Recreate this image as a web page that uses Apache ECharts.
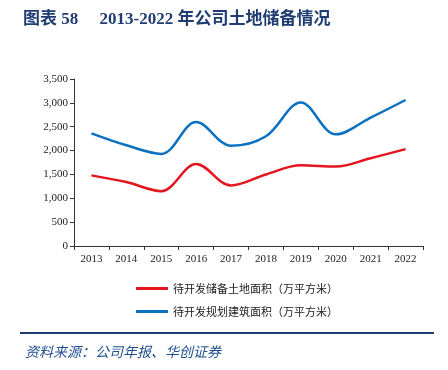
<!DOCTYPE html>
<html><head><meta charset="utf-8">
<script src="https://cdn.jsdelivr.net/npm/echarts@6/dist/echarts.min.js"></script>
<style>html,body{margin:0;padding:0;background:#fff}#c{width:448px;height:370px}</style>
</head><body><div id="c"></div>
<script>
const categories = ['2013','2014','2015','2016','2017','2018','2019','2020','2021','2022'];
const landReserve = [1480, 1340, 1150, 1720, 1270, 1500, 1690, 1665, 1840, 2030];
const buildArea = [2360, 2110, 1930, 2600, 2100, 2300, 3010, 2340, 2690, 3060];
const yTicks = [0, 500, 1000, 1500, 2000, 2500, 3000, 3500];
const seriesNames = ['待开发储备土地面积（万平方米）', '待开发规划建筑面积（万平方米）'];

const chart = echarts.init(document.getElementById('c'));
const serif = '"Liberation Serif", "Noto Sans CJK SC", serif';
chart.setOption({
  animation: false,
  title: [{
    text: '图表 58     2013-2022 年公司土地储备情况',
    left: 18, top: 6,
    textStyle: {fontFamily: serif, fontSize: 17, fontWeight: 'bold', color: '#1f3d73'}
  }, {
    text: '资料来源：公司年报、华创证券',
    left: 20, top: 340,
    textStyle: {fontFamily: '"Noto Sans CJK SC", sans-serif', fontSize: 14, fontWeight: 'normal', fontStyle: 'italic', color: '#1f4f8f'}
  }],
  graphic: [{
    type: 'line', shape: {x1: 20, y1: 333, x2: 434, y2: 333},
    style: {stroke: '#1f3d73', lineWidth: 2}
  }],
  grid: {left: 74, right: 25, top: 79, bottom: 124, containLabel: false},
  legend: {
    orient: 'vertical', left: 131, top: 278, itemGap: 12,
    itemWidth: 32, itemHeight: 3,
    icon: 'rect',
    textStyle: {fontFamily: '"Noto Sans CJK SC", sans-serif', fontSize: 11, color: '#222'},
    data: seriesNames
  },
  xAxis: {
    type: 'category', data: categories, boundaryGap: true,
    axisLine: {lineStyle: {color: '#333', width: 1}},
    axisTick: {show: true, length: 4, lineStyle: {color: '#333'}},
    axisLabel: {fontFamily: serif, fontSize: 11, color: '#222', margin: 8}
  },
  yAxis: {
    type: 'value', min: yTicks[0], max: yTicks[yTicks.length - 1], interval: 500,
    axisLine: {show: true, lineStyle: {color: '#333', width: 1}},
    axisTick: {show: true, length: 4, lineStyle: {color: '#333'}},
    splitLine: {show: false},
    axisLabel: {fontFamily: serif, fontSize: 11, color: '#222', margin: 6,
      formatter: v => v.toLocaleString('en-US')}
  },
  series: [{
    name: seriesNames[0], type: 'line', data: landReserve, smooth: 0.35,
    symbol: 'none', lineStyle: {color: '#e3161f', width: 2.5}, itemStyle: {color: '#e3161f'}
  }, {
    name: seriesNames[1], type: 'line', data: buildArea, smooth: 0.35,
    symbol: 'none', lineStyle: {color: '#0a70c0', width: 2.5}, itemStyle: {color: '#0a70c0'}
  }]
});
</script></body></html>
